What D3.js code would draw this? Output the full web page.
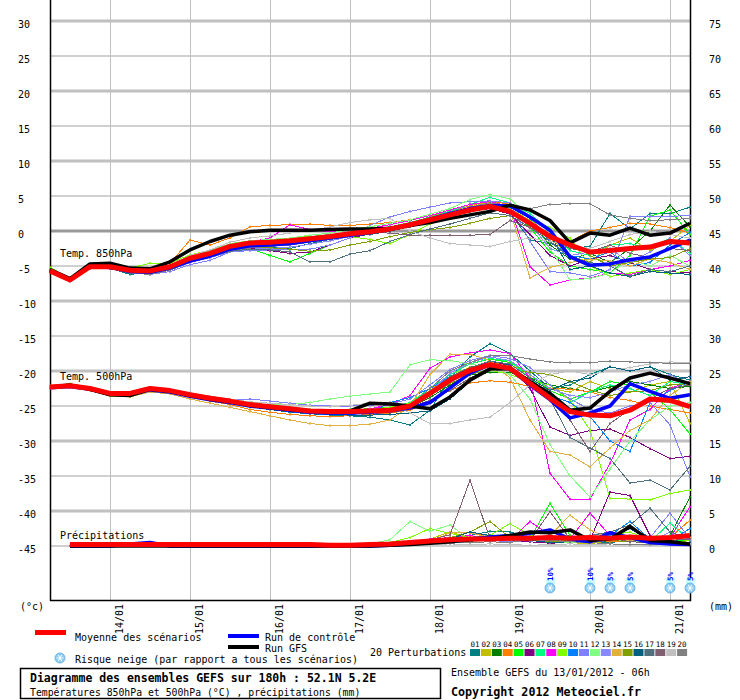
<!DOCTYPE html>
<html>
<head>
<meta charset="utf-8">
<script src="https://cdn.jsdelivr.net/npm/d3@7"></script>
<style>
  body { margin: 0; background: #fff; }
  text { font-family: "DejaVu Sans Mono", monospace; fill: #000; }
</style>
</head>
<body>
<svg id="chart" width="740" height="700"></svg>
<script>
// time steps (hours after 13/01/2012 06h), 6-hourly
var steps = d3.range(0, 193, 6);

// mean, control run and GFS run
var mean850 = [-5.7,-7.0,-5.1,-5.1,-5.6,-5.7,-5.1,-3.9,-3.2,-2.2,-1.7, -1.6,-1.4,-1.1,-0.8,-0.4,-0.1,0.3,0.9,1.6,2.3,3.0, 3.5,2.8,1.1,-0.8,-2.0,-3.0,-2.8,-2.5,-2.3,-1.5,-1.7];
var ctl850  = [-5.6,-7.0,-5.0,-5.2,-5.8,-5.9,-5.3,-4.3,-3.6,-2.6,-2.1, -2.0,-1.8,-1.4,-1.0,-0.6,-0.2,0.2,0.9,1.7,2.5,3.2, 3.6,3.6,2.0,0.1,-3.7,-4.9,-4.7,-4.1,-3.7,-2.5,-1.3];
var gfs850  = [-5.5,-6.8,-4.7,-4.6,-5.3,-5.4,-4.4,-2.7,-1.5,-0.6,-0.1, 0.1,0.1,0.1,0.2,0.3,0.3,0.4,0.8,1.2,1.8,2.3, 2.8,3.7,3.0,1.5,-1.7,-0.3,-0.6,0.4,-0.6,-0.3,1.1];

var mean500 = [-22.3,-22.1,-22.5,-23.2,-23.2,-22.5,-22.8,-23.4,-23.9,-24.3,-24.8, -25.1,-25.4,-25.7,-25.8,-25.8,-25.7,-25.6,-25.0,-23.2,-21.3,-19.9, -19.1,-19.6,-21.8,-23.9,-25.8,-26.3,-26.4,-25.6,-24.0,-24.2,-25.1];
var ctl500  = [-22.4,-22.2,-22.6,-23.3,-23.4,-22.7,-23.0,-23.6,-24.1,-24.5,-25.0, -25.3,-25.6,-25.9,-26.0,-26.0,-25.9,-25.7,-25.3,-24.5,-22.4,-20.3, -19.1,-19.7,-22.0,-24.1,-26.7,-26.0,-25.0,-21.8,-22.9,-23.9,-23.4];
var gfs500  = [-22.3,-22.0,-22.6,-23.4,-23.5,-22.6,-22.9,-23.5,-24.0,-24.4,-24.9, -25.2,-25.5,-25.7,-25.8,-25.7,-24.6,-24.7,-25.0,-25.4,-23.7,-21.3, -19.7,-19.6,-21.5,-23.2,-25.6,-25.3,-22.9,-21.0,-20.3,-21.0,-21.8];

var meanPr = [null,0.2,0.2,0.2,0.2,0.2,0.2,0.2,0.2,0.2,0.2, 0.2,0.2,0.2,0.1,0.1,0.2,0.3,0.5,0.7,0.9,1.0, 1.0,1.1,1.1,1.2,1.1,1.2,1.1,1.3,1.1,1.2,1.5];
var ctlPr  = [null,0,0,0,0.3,0.5,0,0,0,0,0, 0,0,0,0,0,0,0.1,0.3,0.5,0.8,1.0, 1.3,1.5,1.8,2.3,1.0,0.6,1.9,1.2,0.5,0.3,0.2];
var gfsPr  = [null,0,0,0,0,0,0,0,0,0,0, 0,0,0,0,0,0,0.1,0.2,0.4,0.6,0.9, 1.0,1.5,2.0,1.9,2.3,0.8,1.0,2.8,0.8,0.6,0.3];

// 20 perturbations
var pertColors = ["#008080","#c0c000","#008000","#ff8000","#00ff00","#800080","#00ff80","#ff00ff","#80ff00","#0080ff",
                  "#8080ff","#80ff80","#8888ff","#e0b040","#80a000","#006080","#507080","#806070","#c0c0c0","#808080"];

var pert850 = [
  [-5.5,-7.0,-5.0,-5.3,-6.2,-5.9,-5.4,-4.2,-3.4,-2.5,-2.2, -2.3,-2.5,-1.8,-1.2,-0.8,-0.5,0.0,0.6,1.2,2.0,2.8, 3.4,2.6,-1.3,-1.8,-2.5,-2.2,2.5,0.3,2.5,2.5,3.4],
  [-5.6,-6.9,-5.2,-5.0,-5.7,-5.6,-5.0,-3.6,-3.0,-2.0,-1.6, -1.4,-1.6,-1.5,-1.2,-0.5,0.0,0.5,1.2,1.8,2.6,3.4, 4.2,3.0,1.0,-1.0,-3.5,-4.5,-2.0,-1.0,-2.8,-1.5,0.8],
  [-5.7,-7.1,-5.1,-5.2,-5.6,-5.8,-5.2,-3.8,-3.2,-2.4,-2.0, -1.7,-1.4,-1.2,-0.9,-0.4,0.0,0.5,1.0,1.7,2.4,3.2, 3.8,3.2,1.5,-2.0,-4.0,-3.2,-4.5,-2.5,0.0,3.7,0.6],
  [-5.6,-6.9,-5.0,-5.0,-5.5,-5.4,-4.6,-1.3,-2.0,-1.0,0.6, 0.8,0.9,1.0,0.8,0.8,1.0,1.2,1.6,2.2,2.8,3.6, 4.3,3.8,2.0,-1.2,-1.5,0.0,0.5,1.1,1.0,0.5,-0.3],
  [-5.8,-7.0,-5.2,-5.3,-5.8,-6.0,-5.5,-4.0,-3.3,-2.8,-2.5, -3.5,-4.4,-3.2,-2.0,-1.0,-0.2,0.4,1.0,1.8,2.5,3.3, 4.0,3.2,0.5,-3.0,-5.0,-5.5,-6.0,-3.5,2.1,3.0,-0.5],
  [-5.7,-7.0,-5.1,-5.1,-5.7,-5.8,-5.2,-4.1,-3.5,-2.6,-2.4, -2.8,-3.2,-3.0,-2.0,-1.0,-0.4,0.2,0.8,1.4,2.2,2.8, 3.2,2.4,-0.5,-3.5,-5.0,-4.0,-3.5,-4.5,-5.5,-5.8,-6.0],
  [-5.6,-6.9,-5.0,-5.1,-5.6,-5.7,-5.0,-3.7,-3.0,-2.0,-1.5, -1.3,-1.0,-0.8,-0.5,-0.2,0.2,0.6,1.2,2.0,2.8,3.8, 4.8,4.0,2.5,0.0,-2.8,-3.5,-2.0,-1.8,-2.5,-1.0,-3.2],
  [-5.7,-7.0,-5.2,-5.2,-5.7,-5.8,-5.2,-3.9,-3.2,-2.1,-1.6, -1.0,0.9,0.2,-0.1,0.2,0.4,0.9,1.5,2.2,3.0,3.8, 4.2,3.5,-5.1,-7.7,-7.0,-6.7,-6.0,-6.2,-5.5,-5.0,-4.2],
  [-5.2,-6.8,-4.8,-4.8,-5.3,-4.6,-4.6,-3.4,-2.8,-2.0,-1.5, -1.2,-1.0,-0.8,-0.6,-0.8,-1.2,-1.8,-0.5,1.0,2.0,3.0, 3.8,3.2,1.5,0.5,-1.0,-5.0,-6.5,-6.0,-5.5,-6.2,-5.5],
  [-5.7,-7.0,-5.1,-5.2,-5.8,-5.9,-5.4,-4.3,-3.7,-2.8,-2.3, -2.2,-2.0,-1.6,-1.2,-0.8,-0.3,0.2,0.8,1.5,2.4,3.2, 3.8,3.4,1.8,-1.5,-3.5,-4.0,-3.0,-5.0,-4.5,-2.0,-0.2],
  [-5.8,-7.1,-5.3,-5.4,-6.0,-6.2,-5.8,-4.8,-4.2,-3.0,-2.8, -2.7,-2.7,-2.6,-2.0,-1.0,0.8,2.0,2.8,3.4,4.0,4.2, 4.3,4.0,-1.5,-5.8,-6.0,-6.5,-5.5,2.1,2.1,2.1,2.2],
  [-5.6,-6.9,-5.0,-5.0,-5.6,-5.6,-5.0,-3.6,-2.8,-1.8,-1.4, -1.2,-1.0,-0.6,-0.3,0.2,0.6,1.1,1.6,2.4,3.2,4.5, 5.2,4.6,2.0,-2.5,-7.0,-6.8,-6.0,-4.0,-5.0,-3.5,-5.0],
  [-5.7,-7.0,-5.2,-5.3,-5.9,-6.1,-5.6,-4.5,-3.8,-3.0,-2.6, -2.5,-2.3,-1.9,-1.4,-0.8,-0.2,0.4,1.0,1.6,2.4,3.0, 3.6,3.0,1.0,-2.5,-3.5,-3.0,-2.5,-4.5,-3.0,-1.0,-3.5],
  [-5.6,-7.0,-5.1,-5.1,-5.6,-5.7,-5.1,-3.8,-3.1,-2.2,-1.7, -1.4,-1.2,-1.0,-0.7,-0.3,0.1,0.5,1.0,1.7,2.5,3.3, 3.9,3.0,-6.7,-5.2,-4.5,-4.0,-4.3,-5.0,-4.0,-4.5,-5.5],
  [-5.8,-7.1,-5.3,-5.4,-5.9,-6.0,-5.5,-4.3,-3.6,-2.8,-2.4, -2.4,-2.6,-2.9,-2.7,-2.0,-1.5,-0.8,-0.2,0.2,0.5,1.1, 1.8,2.2,0.5,-1.0,-1.5,-3.5,-5.0,-4.5,-4.0,-3.8,-2.5],
  [-5.7,-7.0,-5.1,-5.2,-5.8,-5.9,-5.4,-4.0,-3.3,-2.4,-2.0, -1.9,-1.7,-1.4,-1.0,-0.6,-0.2,0.3,0.8,1.5,2.2,2.8, 3.3,2.8,1.2,-0.5,-5.5,-5.0,-6.0,-6.5,-5.8,-6.0,-6.2],
  [-5.7,-7.1,-5.3,-5.4,-6.0,-6.1,-5.6,-4.4,-3.7,-2.9,-2.6, -2.7,-3.0,-4.4,-4.4,-3.3,-2.8,-1.5,-0.5,0.3,1.0,1.8, 2.6,2.2,0.5,-1.5,-3.8,-4.5,-5.0,-6.5,-5.5,-5.8,-5.0],
  [-5.6,-6.9,-5.1,-5.1,-5.7,-5.8,-5.3,-4.1,-3.4,-2.5,-2.0, -1.8,-1.5,-1.2,-0.9,-0.5,-0.2,-0.3,-0.6,-0.6,-0.6,-0.6, -0.5,1.5,0.5,-1.0,-2.5,-3.0,-2.0,-3.2,-3.8,-2.5,-2.8],
  [-5.7,-7.0,-5.1,-5.1,-5.6,-5.6,-5.0,-3.5,-2.7,-1.6,-1.0, -0.7,-0.3,0.0,0.6,1.2,1.6,1.8,0.0,-1.0,-1.8,-2.0, -2.2,-1.5,-1.0,-1.5,-2.0,-2.5,-1.5,-0.5,0.0,-0.5,-1.0],
  [-5.8,-7.2,-5.4,-5.4,-6.0,-6.2,-5.6,-4.4,-3.7,-2.8,-2.4, -2.2,-2.0,-1.6,-1.2,-0.7,-0.2,0.4,1.0,1.8,2.6,3.4, 4.0,3.6,3.2,3.8,3.9,3.9,2.3,1.8,1.5,1.6,1.8]
];

var pert500 = [
  [-22.2,-22.0,-22.6,-23.3,-23.4,-22.6,-22.9,-23.6,-24.1,-24.6,-25.1, -25.5,-25.9,-26.1,-26.3,-26.4,-26.6,-27.0,-27.7,-25.6,-21.0,-18.0, -16.1,-17.5,-20.0,-22.5,-22.0,-20.5,-19.4,-20.0,-19.4,-20.5,-21.3],
  [-22.4,-22.1,-22.4,-23.1,-23.3,-22.4,-22.7,-23.2,-23.7,-24.2,-24.7, -25.0,-25.3,-25.6,-25.7,-25.9,-25.8,-25.5,-24.8,-22.8,-20.5,-19.5, -18.8,-19.0,-20.8,-22.5,-23.0,-21.5,-22.5,-23.0,-22.0,-21.5,-27.5],
  [-22.3,-22.1,-22.5,-23.3,-23.2,-22.5,-22.8,-23.5,-24.0,-24.4,-24.9, -25.2,-25.6,-25.9,-26.0,-26.0,-25.9,-25.7,-25.2,-23.8,-22.0,-20.6, -20.2,-20.2,-21.0,-22.0,-22.5,-23.0,-22.3,-21.5,-22.0,-22.5,-22.2],
  [-22.5,-22.3,-22.7,-23.4,-23.5,-22.8,-23.0,-23.7,-24.3,-24.8,-25.5, -25.9,-26.2,-26.4,-26.5,-26.4,-26.2,-26.0,-25.6,-24.2,-22.8,-21.7, -21.4,-21.6,-22.2,-22.5,-22.6,-23.0,-23.8,-24.2,-25.0,-25.5,-26.0],
  [-22.2,-22.0,-22.4,-23.2,-23.1,-22.4,-22.7,-23.3,-23.8,-24.2,-24.7, -25.0,-25.3,-25.6,-25.6,-25.5,-25.4,-25.2,-24.6,-22.5,-20.5,-19.0, -18.3,-18.8,-20.5,-22.8,-24.0,-23.0,-21.5,-22.0,-23.0,-25.5,-29.0],
  [-22.3,-22.1,-22.5,-23.2,-23.3,-22.6,-22.9,-23.5,-24.1,-24.5,-25.0, -25.3,-25.6,-25.9,-26.0,-26.0,-25.9,-25.7,-25.2,-23.5,-21.5,-19.8, -18.6,-19.2,-22.5,-28.0,-29.2,-28.5,-28.3,-29.5,-31.1,-32.5,-32.2],
  [-22.3,-22.0,-22.4,-23.1,-23.1,-22.4,-22.7,-23.3,-23.8,-24.2,-24.6, -24.9,-25.2,-25.5,-25.6,-25.6,-25.5,-25.2,-24.5,-22.5,-20.5,-19.0, -18.2,-18.6,-21.0,-23.5,-24.5,-23.0,-22.0,-22.5,-23.5,-21.5,-22.0],
  [-22.3,-22.1,-22.5,-23.2,-23.2,-22.5,-22.8,-23.4,-23.9,-24.3,-24.8, -25.1,-25.4,-25.7,-25.7,-25.6,-25.4,-24.8,-23.5,-19.6,-18.0,-17.4, -17.0,-17.5,-21.0,-34.6,-38.3,-38.3,-33.2,-27.0,-25.5,-22.5,-21.5],
  [-22.1,-21.8,-22.3,-23.0,-23.5,-22.6,-22.7,-23.2,-23.7,-24.1,-24.5, -24.9,-25.2,-25.5,-25.6,-25.6,-25.5,-25.2,-24.6,-23.0,-21.0,-20.2, -19.9,-20.5,-21.5,-22.0,-24.2,-28.4,-38.2,-38.3,-38.4,-37.5,-37.0],
  [-22.4,-22.2,-22.6,-23.3,-23.3,-22.6,-22.9,-23.5,-24.0,-24.5,-25.0, -25.4,-25.8,-26.1,-26.2,-26.2,-26.0,-24.5,-23.8,-22.5,-20.8,-19.6, -19.0,-19.4,-21.5,-23.5,-24.5,-26.5,-30.0,-31.5,-24.5,-22.8,-21.5],
  [-22.2,-22.0,-22.4,-23.1,-23.0,-22.3,-22.6,-23.1,-23.6,-24.0,-24.0, -24.3,-24.6,-24.9,-25.0,-25.0,-24.9,-24.7,-24.0,-22.0,-19.8,-18.5, -17.8,-18.2,-19.5,-22.0,-24.0,-25.5,-26.0,-25.0,-24.5,-27.7,-35.1],
  [-22.3,-22.0,-22.4,-23.1,-23.1,-22.4,-22.7,-23.2,-23.7,-24.1,-24.6, -24.8,-24.8,-24.5,-24.0,-23.6,-23.3,-23.0,-19.1,-18.4,-18.5,-19.0, -19.5,-20.5,-24.0,-30.5,-35.0,-38.0,-34.0,-30.0,-27.0,-25.0,-24.5],
  [-22.4,-22.2,-22.6,-23.3,-23.4,-22.7,-23.0,-23.6,-24.1,-24.6,-25.1, -25.4,-25.7,-26.0,-26.1,-26.1,-26.0,-25.8,-25.2,-23.0,-20.3,-18.8, -18.0,-18.5,-20.5,-22.5,-23.5,-23.8,-23.0,-22.0,-21.5,-20.5,-22.0],
  [-22.5,-22.3,-22.8,-23.6,-23.7,-23.0,-23.3,-24.0,-24.6,-25.2,-25.8, -26.4,-27.0,-27.5,-27.8,-27.8,-27.6,-27.0,-25.0,-20.5,-17.6,-17.6, -18.5,-21.0,-27.0,-31.5,-32.0,-33.7,-31.0,-28.5,-27.0,-23.5,-21.5],
  [-22.2,-22.0,-22.5,-23.3,-23.6,-22.7,-22.9,-23.4,-23.9,-24.3,-24.7, -25.0,-25.3,-25.6,-25.7,-25.7,-25.6,-25.4,-24.9,-23.5,-21.8,-20.5, -19.8,-19.8,-20.2,-20.5,-21.5,-22.7,-23.5,-23.0,-22.8,-22.0,-21.8],
  [-22.4,-22.2,-22.6,-23.3,-23.3,-22.6,-22.9,-23.6,-24.1,-24.6,-25.1, -25.4,-25.7,-26.0,-26.2,-26.3,-26.3,-26.2,-26.0,-25.7,-24.0,-21.5, -19.5,-19.0,-21.0,-22.8,-21.5,-21.0,-19.4,-20.0,-19.4,-21.3,-20.8],
  [-22.3,-22.1,-22.5,-23.2,-23.3,-22.6,-22.9,-23.5,-24.0,-24.4,-24.9, -25.2,-25.5,-25.8,-25.9,-25.9,-25.8,-25.6,-25.1,-23.0,-20.8,-19.5, -18.6,-19.0,-21.0,-24.0,-29.5,-31.0,-32.5,-36.0,-35.6,-37.0,-33.6],
  [-22.3,-22.1,-22.6,-23.4,-23.5,-22.7,-23.0,-23.6,-24.2,-24.6,-25.1, -25.4,-25.7,-26.0,-26.0,-25.9,-25.8,-25.6,-25.2,-24.2,-22.8,-21.0, -19.8,-20.0,-21.5,-23.0,-27.0,-31.5,-27.5,-25.5,-24.0,-22.5,-22.0],
  [-22.2,-22.0,-22.4,-23.0,-23.0,-22.3,-22.6,-23.1,-23.6,-24.0,-24.4, -24.6,-24.8,-25.0,-25.1,-24.9,-24.6,-24.5,-26.0,-27.5,-27.5,-27.0, -26.6,-24.5,-22.0,-20.5,-20.0,-20.5,-20.0,-19.5,-19.0,-18.7,-18.8],
  [-22.4,-22.2,-22.6,-23.3,-23.4,-22.7,-23.0,-23.6,-24.1,-24.6,-25.0, -25.3,-25.6,-25.9,-26.0,-26.0,-25.9,-25.7,-25.0,-22.5,-20.0,-18.8, -17.8,-17.8,-18.3,-18.7,-18.8,-18.8,-18.6,-18.7,-18.8,-18.9,-18.9]
];

var pertPr = [
  [null,0,0,0,0,0,0,0,0.1,0,0, 0,0,0,0,0,0,0.2,0.3,0.5,0.8,1.5, 2.1,2.0,1.2,0.8,1.0,0.6,0.5,0.8,0.4,0.6,1.0],
  [null,0,0,0,0,0,0,0,0,0,0, 0,0,0,0,0,0,0.3,0.6,1.0,2.0,1.2, 0.8,0.6,1.2,0.8,0.5,0.3,0.8,1.2,0.6,0.4,0.8],
  [null,0,0,0,0,0,0,0,0,0,0, 0,0,0,0,0,0,0.1,0.2,0.3,0.5,0.7, 0.8,1.2,1.0,0.9,1.5,0.8,0.6,1.0,0.8,1.5,7.0],
  [null,0,0,0.1,0,0,0,0,0.1,0,0, 0,0,0,0,0,0,0.2,0.4,0.6,1.9,1.9, 1.5,1.2,0.9,0.8,1.0,1.2,0.6,0.8,0.5,1.2,3.7],
  [null,0,0,0,0,0,0,0,0,0,0, 0,0,0,0,0,0,0.3,0.5,0.8,1.0,1.2, 1.4,0.9,1.0,6.1,1.5,0.8,1.0,1.2,0.6,0.5,1.0],
  [null,0,0,0,0,0,0,0,0,0,0, 0,0,0,0,0,0,0.1,0.3,0.5,0.8,0.9, 1.0,0.8,0.6,0.4,0.5,0.8,7.7,7.2,1.5,0.5,0.3],
  [null,0,0,0,0,0,0,0,0,0,0, 0,0,0,0,0,0,0.2,0.4,0.6,0.8,1.0, 1.5,1.2,0.8,0.6,1.0,0.8,1.2,1.5,0.6,3.3,0.8],
  [null,0,0,0,0,0,0,0,0,0,0, 0,0,0,0,0,0,0.2,0.5,1.0,1.2,1.5, 1.0,0.8,3.5,1.5,1.0,4.7,1.5,1.0,0.8,1.2,5.6],
  [null,0,0,0,0,0,0,0,0,0,0, 0,0,0,0,0,0,0.5,1.2,2.5,1.8,1.2, 1.5,3.2,1.5,1.0,1.2,0.8,1.5,2.0,0.8,0.5,0.8],
  [null,0,0,0,0,0,0,0,0,0,0, 0,0,0,0,0,0,0.1,0.2,0.4,0.6,0.8, 1.0,1.2,0.8,0.6,0.8,1.0,1.5,3.5,1.0,0.8,2.5],
  [null,0,0,0,0,0,0,0,0,0,0, 0,0,0,0,0,0,0.3,0.6,0.9,1.2,1.0, 0.8,0.6,0.8,1.0,0.7,0.5,0.8,1.0,1.2,4.7,1.0],
  [null,0.2,0.3,0.2,0.1,0,0,0,0,0,0, 0,0,0,0,0.1,0.3,0.9,3.5,2.1,3.0,0.9, 0.8,1.2,0.9,0.6,0.5,0.8,1.0,0.6,0.8,1.5,1.0],
  [null,0,0,0,0,0,0,0,0,0,0, 0,0,0,0,0,0,0.2,0.4,0.6,0.8,1.0, 1.2,0.9,0.7,0.8,1.0,0.8,1.2,1.0,0.6,2.0,0.8],
  [null,0,0,0,0,0,0,0,0,0,0, 0,0,0,0,0,0,0.1,0.3,0.6,1.9,1.9, 1.2,0.8,1.2,1.5,4.4,2.3,1.0,0.8,0.6,1.0,1.2],
  [null,0,0,0,0,0,0,0,0,0,0, 0,0,0,0,0,0,0.2,0.5,0.8,1.2,2.0, 3.5,1.2,0.8,0.6,0.8,1.0,0.8,0.6,0.5,0.8,1.0],
  [null,0,0,0,0,0,0,0,0,0,0, 0,0,0,0,0,0,0.1,0.3,0.5,1.0,2.0, 1.5,1.0,0.8,0.5,0.6,0.8,1.0,2.5,0.8,0.6,0.5],
  [null,0,0,0,0,0,0,0,0,0,0, 0,0,0,0,0,0,0.2,0.4,0.6,0.8,1.0, 0.8,0.9,1.0,1.2,0.8,1.5,2.0,3.0,5.4,2.0,1.0],
  [null,0,0,0,0,0,0,0,0,0,0, 0,0,0,0,0,0,0.2,0.5,0.9,1.6,9.4, 1.0,1.0,0.8,4.9,1.0,0.8,1.2,0.6,0.5,0.8,1.0],
  [null,0,0,0,0,0,0,0,0,0,0, 0,0,0,0,0,0,0.1,0.1,0.2,0.3,0.2, 0.3,0.2,0.1,0.2,0.3,0.2,0.3,0.2,0.1,0.2,0.3],
  [null,0,0,0,0,0,0,0,0,0,0, 0,0,0,0,0,0,0.1,0.2,0.3,0.4,0.5, 0.6,0.5,1.0,0.8,0.6,0.5,0.3,0.2,0.2,0.3,0.2]
];

// snow risk (hour after start, % of members)
var snowHours = [150, 162, 168, 174, 186, 192];
var snowPct = ["10%", "10%", "5%", "5%", "5%", "5%"];

var svg = d3.select("#chart");
svg.append("rect").attr("width", 740).attr("height", 700).attr("fill", "#fff");

var t0 = new Date(2012, 0, 13, 6);
var times = steps.map(h => d3.timeHour.offset(t0, h));
var x = d3.scaleTime().domain([t0, d3.timeHour.offset(t0, 192)]).range([50, 690]);
var yT = d3.scaleLinear().domain([-45, 30]).range([546, 21]);
var yP = d3.scaleLinear().domain([0, 75]).range([546, 21]);

// grid
var days = x.ticks(d3.timeDay.every(1));
svg.append("g").selectAll("line").data(days).join("line")
  .attr("x1", d => x(d) + 0.5).attr("x2", d => x(d) + 0.5)
  .attr("y1", 0).attr("y2", 600)
  .attr("stroke", "#c0c0c0").attr("stroke-width", 1);

svg.append("g").selectAll("line").data(yT.ticks(15)).join("line")
  .attr("x1", 50).attr("x2", 690)
  .attr("y1", d => yT(d)).attr("y2", d => yT(d))
  .attr("stroke", d => d === 0 ? "#999" : "#c0c0c0")
  .attr("stroke-width", d => d % 10 === 0 ? 3 : 1.5);

// axes
var axL = svg.append("g").attr("transform", "translate(50,0)")
  .call(d3.axisLeft(yT).ticks(15).tickSize(0).tickFormat(d => String(d)));
axL.select(".domain").remove();
axL.selectAll("text").attr("x", -32).attr("dy", 6).attr("text-anchor", "start")
  .style("font-family", "DejaVu Sans Mono").style("font-size", "10px");

var axR = svg.append("g").attr("transform", "translate(690,0)")
  .call(d3.axisRight(yP).ticks(15).tickSize(0).tickFormat(d => String(d)));
axR.select(".domain").remove();
axR.selectAll("text").attr("x", 19).attr("dy", 6).attr("text-anchor", "start")
  .style("font-family", "DejaVu Sans Mono").style("font-size", "10px");

svg.append("path").attr("d", "M50.5,0V600.5H690.5V0")
  .attr("fill", "none").attr("stroke", "#000").attr("stroke-width", 1.5);

// date labels
svg.append("g").selectAll("text").data(days).join("text")
  .attr("transform", d => "translate(" + (x(d) + 13) + ",634) rotate(-90)")
  .style("font-size", "10px")
  .text(d3.timeFormat("%d/%m"));

svg.append("text").attr("x", 20).attr("y", 610).style("font-size", "10px").text("(°c)");
svg.append("text").attr("x", 709).attr("y", 610).style("font-size", "10px").text("(mm)");

// lines
var lineT = d3.line().defined(d => d != null).x((d, i) => x(times[i])).y(d => yT(d));
var lineP = d3.line().defined(d => d != null).x((d, i) => x(times[i])).y(d => yP(d));

function drawSeries(data, gen, scale, color, width, marks) {
  var p = svg.append("path").datum(data).attr("d", gen)
    .attr("fill", "none").attr("stroke", color).attr("stroke-width", width)
    .attr("stroke-linejoin", "round");
  if (marks) {
    p.attr("shape-rendering", "crispEdges");
    svg.append("g").selectAll("rect")
      .data(data.map((v, i) => [i, v]).filter(q => q[1] != null)).join("rect")
      .attr("x", q => x(times[q[0]]) - 1).attr("y", q => scale(q[1]) - 1)
      .attr("width", 2).attr("height", 2).attr("fill", color);
  }
}

pertColors.forEach(function(c, k) {
  drawSeries(pertPr[k], lineP, yP, c, 1, true);
  drawSeries(pert500[k], lineT, yT, c, 1, true);
  drawSeries(pert850[k], lineT, yT, c, 1, true);
});

[[ctlPr, lineP], [ctl500, lineT], [ctl850, lineT]].forEach(s => drawSeries(s[0], s[1], null, "#0000ff", 3.5, false));
[[gfsPr, lineP], [gfs500, lineT], [gfs850, lineT]].forEach(s => drawSeries(s[0], s[1], null, "#000000", 3.5, false));
[[meanPr, lineP], [mean500, lineT], [mean850, lineT]].forEach(s => drawSeries(s[0], s[1], null, "#ff0000", 5, false));

// series titles inside the plot
svg.append("text").attr("x", 60).attr("y", 257).style("font-size", "10px").text("Temp. 850hPa");
svg.append("text").attr("x", 60).attr("y", 380).style("font-size", "10px").text("Temp. 500hPa");
svg.append("text").attr("x", 60).attr("y", 539).style("font-size", "10px").text("Précipitations");

// snow flake icon
function flake(cx, cy) {
  var g = svg.append("g").attr("transform", "translate(" + cx + "," + cy + ")");
  g.append("circle").attr("r", 5).attr("fill", "#8ccdf2").attr("stroke", "#5fa8e0").attr("stroke-width", 0.8);
  [0, 60, 120].forEach(a => {
    g.append("line").attr("x1", -3.5).attr("x2", 3.5).attr("y1", 0).attr("y2", 0)
      .attr("transform", "rotate(" + a + ")").attr("stroke", "#fff").attr("stroke-width", 0.9);
  });
}

snowHours.forEach(function(h, i) {
  var cx = x(d3.timeHour.offset(t0, h));
  svg.append("rect").attr("x", cx - 4).attr("y", 578).attr("width", 9).attr("height", 6).attr("fill", "#ccffff");
  flake(cx, 588);
  svg.append("text").attr("transform", "translate(" + (cx + 3) + ",581) rotate(-90)")
    .style("font-size", "7.5px").style("font-weight", "bold").style("fill", "#0000ff")
    .text(snowPct[i]);
});

// legend
svg.append("rect").attr("x", 35).attr("y", 630).attr("width", 31).attr("height", 5).attr("fill", "#ff0000");
svg.append("text").attr("x", 75).attr("y", 641).style("font-size", "10px").text("Moyenne des scénarios");
svg.append("rect").attr("x", 228).attr("y", 634).attr("width", 31).attr("height", 4).attr("fill", "#0000ff");
svg.append("text").attr("x", 265).attr("y", 641).style("font-size", "10px").text("Run de contrôle");
svg.append("rect").attr("x", 228).attr("y", 645).attr("width", 31).attr("height", 4).attr("fill", "#000");
svg.append("text").attr("x", 265).attr("y", 652).style("font-size", "10px").text("Run GFS");
flake(60, 658);
svg.append("text").attr("x", 75).attr("y", 663).style("font-size", "10px").text("Risque neige (par rapport a tous les scénarios)");
svg.append("text").attr("x", 370).attr("y", 656).style("font-size", "10px").text("20 Perturbations");

var lg = svg.append("g");
lg.selectAll("rect").data(pertColors).join("rect")
  .attr("x", (d, i) => 470 + i * 10.9).attr("y", 649).attr("width", 10).attr("height", 7)
  .attr("fill", d => d);
lg.selectAll("text").data(pertColors).join("text")
  .attr("x", (d, i) => 475 + i * 10.9).attr("y", 647).attr("text-anchor", "middle")
  .style("font-size", "7.5px")
  .text((d, i) => d3.format("02d")(i + 1));

// title box
svg.append("rect").attr("x", 20.5).attr("y", 668.5).attr("width", 420).attr("height", 30)
  .attr("fill", "none").attr("stroke", "#000").attr("stroke-width", 1.5);
svg.append("text").attr("x", 30).attr("y", 682).style("font-size", "11.5px").style("font-weight", "bold")
  .text("Diagramme des ensembles GEFS sur 180h : 52.1N 5.2E");
svg.append("text").attr("x", 30).attr("y", 695.5).style("font-size", "9.8px")
  .text("Températures 850hPa et 500hPa (°C) , précipitations (mm)");
svg.append("text").attr("x", 451).attr("y", 676).style("font-size", "10px")
  .text("Ensemble GEFS du 13/01/2012 - 06h");
svg.append("text").attr("x", 451).attr("y", 696).style("font-size", "11.7px").style("font-weight", "bold")
  .text("Copyright 2012 Meteociel.fr");
</script>
</body>
</html>
